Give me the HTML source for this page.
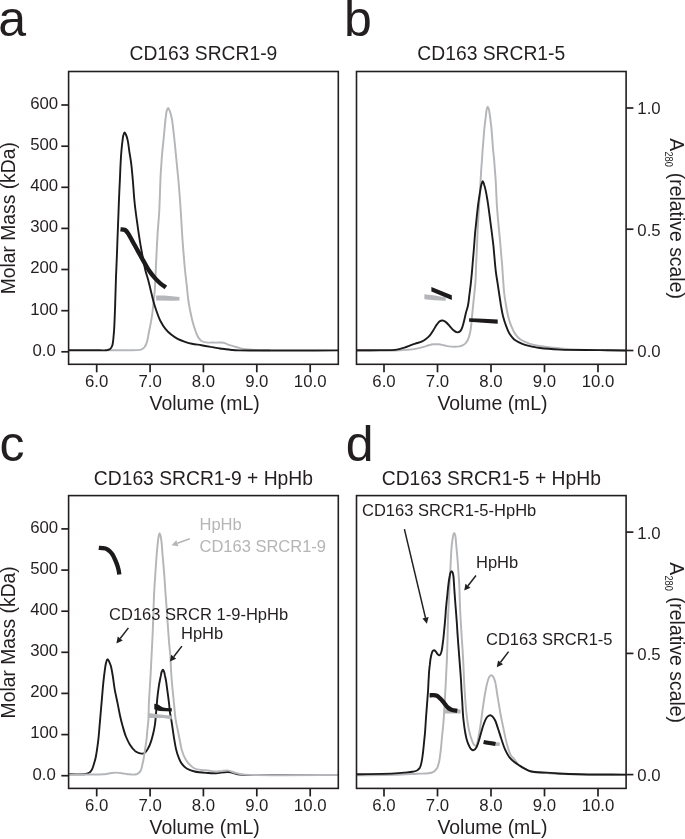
<!DOCTYPE html>
<html><head><meta charset="utf-8"><style>
html,body{margin:0;padding:0;background:#fff;width:685px;height:839px;overflow:hidden}
svg{display:block;will-change:transform}
</style></head><body>
<svg width="685" height="839" viewBox="0 0 685 839" font-family='"Liberation Sans", sans-serif'>
<rect width="685" height="839" fill="#fff"/>
<text x="-1.7" y="36.3" font-size="50" fill="#231f20">a</text>
<text x="344.1" y="36.4" font-size="50" fill="#231f20">b</text>
<text x="-0.6" y="460.8" font-size="50" fill="#231f20">c</text>
<text x="345.8" y="460.7" font-size="50" fill="#231f20">d</text>
<text x="203.4" y="59.8" font-size="19.3" fill="#231f20" text-anchor="middle">CD163 SRCR1-9</text>
<text x="491.3" y="59.8" font-size="19.3" fill="#231f20" text-anchor="middle">CD163 SRCR1-5</text>
<text x="203.4" y="484.8" font-size="19.3" fill="#231f20" text-anchor="middle">CD163 SRCR1-9 + HpHb</text>
<text x="491.3" y="484.8" font-size="19.3" fill="#231f20" text-anchor="middle">CD163 SRCR1-5 + HpHb</text>
<line x1="96.7" y1="364.3" x2="96.7" y2="372.3" stroke="#231f20" stroke-width="1.7"/>
<text x="96.7" y="387.3" font-size="16.8" fill="#231f20" text-anchor="middle">6.0</text>
<line x1="150.1" y1="364.3" x2="150.1" y2="372.3" stroke="#231f20" stroke-width="1.7"/>
<text x="150.1" y="387.3" font-size="16.8" fill="#231f20" text-anchor="middle">7.0</text>
<line x1="203.4" y1="364.3" x2="203.4" y2="372.3" stroke="#231f20" stroke-width="1.7"/>
<text x="203.4" y="387.3" font-size="16.8" fill="#231f20" text-anchor="middle">8.0</text>
<line x1="256.8" y1="364.3" x2="256.8" y2="372.3" stroke="#231f20" stroke-width="1.7"/>
<text x="256.8" y="387.3" font-size="16.8" fill="#231f20" text-anchor="middle">9.0</text>
<line x1="310.2" y1="364.3" x2="310.2" y2="372.3" stroke="#231f20" stroke-width="1.7"/>
<text x="310.2" y="387.3" font-size="16.8" fill="#231f20" text-anchor="middle">10.0</text>
<text x="204.6" y="409.7" font-size="19.45" fill="#231f20" text-anchor="middle">Volume (mL)</text>
<line x1="61.3" y1="351.8" x2="68.6" y2="351.8" stroke="#231f20" stroke-width="1.7"/>
<text x="44.2" y="355.6" font-size="16.8" fill="#231f20" text-anchor="middle">0.0</text>
<line x1="61.3" y1="310.7" x2="68.6" y2="310.7" stroke="#231f20" stroke-width="1.7"/>
<text x="44.2" y="314.5" font-size="16.8" fill="#231f20" text-anchor="middle">100</text>
<line x1="61.3" y1="269.5" x2="68.6" y2="269.5" stroke="#231f20" stroke-width="1.7"/>
<text x="44.2" y="273.3" font-size="16.8" fill="#231f20" text-anchor="middle">200</text>
<line x1="61.3" y1="228.4" x2="68.6" y2="228.4" stroke="#231f20" stroke-width="1.7"/>
<text x="44.2" y="232.2" font-size="16.8" fill="#231f20" text-anchor="middle">300</text>
<line x1="61.3" y1="187.3" x2="68.6" y2="187.3" stroke="#231f20" stroke-width="1.7"/>
<text x="44.2" y="191.1" font-size="16.8" fill="#231f20" text-anchor="middle">400</text>
<line x1="61.3" y1="146.2" x2="68.6" y2="146.2" stroke="#231f20" stroke-width="1.7"/>
<text x="44.2" y="150.0" font-size="16.8" fill="#231f20" text-anchor="middle">500</text>
<line x1="61.3" y1="105.0" x2="68.6" y2="105.0" stroke="#231f20" stroke-width="1.7"/>
<text x="44.2" y="108.8" font-size="16.8" fill="#231f20" text-anchor="middle">600</text>
<text transform="translate(15.0,294.3) rotate(-90)" font-size="19.3" fill="#231f20">Molar Mass (kDa)</text>
<line x1="384.0" y1="364.3" x2="384.0" y2="372.3" stroke="#231f20" stroke-width="1.7"/>
<text x="384.0" y="387.3" font-size="16.8" fill="#231f20" text-anchor="middle">6.0</text>
<line x1="437.5" y1="364.3" x2="437.5" y2="372.3" stroke="#231f20" stroke-width="1.7"/>
<text x="437.5" y="387.3" font-size="16.8" fill="#231f20" text-anchor="middle">7.0</text>
<line x1="491.0" y1="364.3" x2="491.0" y2="372.3" stroke="#231f20" stroke-width="1.7"/>
<text x="491.0" y="387.3" font-size="16.8" fill="#231f20" text-anchor="middle">8.0</text>
<line x1="544.5" y1="364.3" x2="544.5" y2="372.3" stroke="#231f20" stroke-width="1.7"/>
<text x="544.5" y="387.3" font-size="16.8" fill="#231f20" text-anchor="middle">9.0</text>
<line x1="598.0" y1="364.3" x2="598.0" y2="372.3" stroke="#231f20" stroke-width="1.7"/>
<text x="598.0" y="387.3" font-size="16.8" fill="#231f20" text-anchor="middle">10.0</text>
<text x="492.5" y="409.7" font-size="19.45" fill="#231f20" text-anchor="middle">Volume (mL)</text>
<line x1="626.1" y1="350.5" x2="633.4" y2="350.5" stroke="#231f20" stroke-width="1.7"/>
<text x="637.3" y="356.9" font-size="16.8" fill="#231f20">0.0</text>
<line x1="626.1" y1="229.2" x2="633.4" y2="229.2" stroke="#231f20" stroke-width="1.7"/>
<text x="637.3" y="235.7" font-size="16.8" fill="#231f20">0.5</text>
<line x1="626.1" y1="108.0" x2="633.4" y2="108.0" stroke="#231f20" stroke-width="1.7"/>
<text x="637.3" y="114.4" font-size="16.8" fill="#231f20">1.0</text>
<g transform="translate(670,138.2) rotate(90)" fill="#231f20"><text x="0" y="0" font-size="19.4">A</text><text x="13.2" y="4.6" font-size="10.4" textLength="15.4" lengthAdjust="spacingAndGlyphs">280</text><text x="34.6" y="0" font-size="19.4">(relative scale)</text></g>
<line x1="96.7" y1="788.4" x2="96.7" y2="796.4" stroke="#231f20" stroke-width="1.7"/>
<text x="96.7" y="811.4" font-size="16.8" fill="#231f20" text-anchor="middle">6.0</text>
<line x1="150.1" y1="788.4" x2="150.1" y2="796.4" stroke="#231f20" stroke-width="1.7"/>
<text x="150.1" y="811.4" font-size="16.8" fill="#231f20" text-anchor="middle">7.0</text>
<line x1="203.4" y1="788.4" x2="203.4" y2="796.4" stroke="#231f20" stroke-width="1.7"/>
<text x="203.4" y="811.4" font-size="16.8" fill="#231f20" text-anchor="middle">8.0</text>
<line x1="256.8" y1="788.4" x2="256.8" y2="796.4" stroke="#231f20" stroke-width="1.7"/>
<text x="256.8" y="811.4" font-size="16.8" fill="#231f20" text-anchor="middle">9.0</text>
<line x1="310.2" y1="788.4" x2="310.2" y2="796.4" stroke="#231f20" stroke-width="1.7"/>
<text x="310.2" y="811.4" font-size="16.8" fill="#231f20" text-anchor="middle">10.0</text>
<text x="204.6" y="833.8" font-size="19.45" fill="#231f20" text-anchor="middle">Volume (mL)</text>
<line x1="61.3" y1="775.7" x2="68.6" y2="775.7" stroke="#231f20" stroke-width="1.7"/>
<text x="44.2" y="779.5" font-size="16.8" fill="#231f20" text-anchor="middle">0.0</text>
<line x1="61.3" y1="734.6" x2="68.6" y2="734.6" stroke="#231f20" stroke-width="1.7"/>
<text x="44.2" y="738.4" font-size="16.8" fill="#231f20" text-anchor="middle">100</text>
<line x1="61.3" y1="693.4" x2="68.6" y2="693.4" stroke="#231f20" stroke-width="1.7"/>
<text x="44.2" y="697.2" font-size="16.8" fill="#231f20" text-anchor="middle">200</text>
<line x1="61.3" y1="652.3" x2="68.6" y2="652.3" stroke="#231f20" stroke-width="1.7"/>
<text x="44.2" y="656.1" font-size="16.8" fill="#231f20" text-anchor="middle">300</text>
<line x1="61.3" y1="611.2" x2="68.6" y2="611.2" stroke="#231f20" stroke-width="1.7"/>
<text x="44.2" y="615.0" font-size="16.8" fill="#231f20" text-anchor="middle">400</text>
<line x1="61.3" y1="570.1" x2="68.6" y2="570.1" stroke="#231f20" stroke-width="1.7"/>
<text x="44.2" y="573.9" font-size="16.8" fill="#231f20" text-anchor="middle">500</text>
<line x1="61.3" y1="528.9" x2="68.6" y2="528.9" stroke="#231f20" stroke-width="1.7"/>
<text x="44.2" y="532.7" font-size="16.8" fill="#231f20" text-anchor="middle">600</text>
<text transform="translate(15.0,718.4) rotate(-90)" font-size="19.3" fill="#231f20">Molar Mass (kDa)</text>
<line x1="384.0" y1="788.4" x2="384.0" y2="796.4" stroke="#231f20" stroke-width="1.7"/>
<text x="384.0" y="811.4" font-size="16.8" fill="#231f20" text-anchor="middle">6.0</text>
<line x1="437.5" y1="788.4" x2="437.5" y2="796.4" stroke="#231f20" stroke-width="1.7"/>
<text x="437.5" y="811.4" font-size="16.8" fill="#231f20" text-anchor="middle">7.0</text>
<line x1="491.0" y1="788.4" x2="491.0" y2="796.4" stroke="#231f20" stroke-width="1.7"/>
<text x="491.0" y="811.4" font-size="16.8" fill="#231f20" text-anchor="middle">8.0</text>
<line x1="544.5" y1="788.4" x2="544.5" y2="796.4" stroke="#231f20" stroke-width="1.7"/>
<text x="544.5" y="811.4" font-size="16.8" fill="#231f20" text-anchor="middle">9.0</text>
<line x1="598.0" y1="788.4" x2="598.0" y2="796.4" stroke="#231f20" stroke-width="1.7"/>
<text x="598.0" y="811.4" font-size="16.8" fill="#231f20" text-anchor="middle">10.0</text>
<text x="492.5" y="833.8" font-size="19.45" fill="#231f20" text-anchor="middle">Volume (mL)</text>
<line x1="626.1" y1="774.6" x2="633.4" y2="774.6" stroke="#231f20" stroke-width="1.7"/>
<text x="637.3" y="781.0" font-size="16.8" fill="#231f20">0.0</text>
<line x1="626.1" y1="653.4" x2="633.4" y2="653.4" stroke="#231f20" stroke-width="1.7"/>
<text x="637.3" y="659.8" font-size="16.8" fill="#231f20">0.5</text>
<line x1="626.1" y1="532.1" x2="633.4" y2="532.1" stroke="#231f20" stroke-width="1.7"/>
<text x="637.3" y="538.5" font-size="16.8" fill="#231f20">1.0</text>
<g transform="translate(670,562.3) rotate(90)" fill="#231f20"><text x="0" y="0" font-size="19.4">A</text><text x="13.2" y="4.6" font-size="10.4" textLength="15.4" lengthAdjust="spacingAndGlyphs">280</text><text x="34.6" y="0" font-size="19.4">(relative scale)</text></g>
<path d="M108.0,350.2 C110.8,350.2 119.7,350.2 125.0,350.2 C129.6,350.2 135.2,350.3 138.0,350.1 C139.4,350.0 140.1,349.9 141.0,349.6 C141.8,349.3 142.4,348.9 143.0,348.5 C143.6,348.1 144.1,347.6 144.6,347.0 C145.1,346.3 145.6,345.4 146.0,344.5 C146.5,343.4 146.8,342.4 147.2,340.9 C147.9,338.4 148.5,334.2 149.2,330.8 C149.9,327.4 150.6,324.1 151.2,320.7 C151.8,317.3 152.3,313.9 152.7,310.5 C153.1,307.1 153.4,303.8 153.7,300.4 C154.1,297.0 154.5,293.7 154.8,290.3 C155.1,286.9 155.1,283.5 155.3,280.1 C155.5,276.7 155.6,273.3 155.8,270.0 C155.9,266.8 156.0,264.5 156.2,260.5 C156.5,253.8 157.1,242.1 157.6,233.6 C158.1,226.1 158.8,218.9 159.2,212.2 C159.5,206.2 159.7,200.5 159.9,195.0 C160.1,189.8 160.2,185.0 160.4,180.0 C160.6,175.0 161.0,169.8 161.3,165.0 C161.6,160.7 161.8,157.1 162.2,152.6 C162.7,147.2 163.4,140.9 164.0,135.0 C164.6,129.2 165.1,122.0 165.7,117.5 C166.1,114.7 166.2,112.3 166.8,110.6 C167.2,109.5 167.6,108.0 168.1,108.0 C168.5,108.0 169.1,109.3 169.5,110.3 C170.2,112.0 171.0,114.5 171.6,117.5 C172.6,122.0 173.2,129.2 173.9,135.0 C174.6,140.9 175.1,146.7 175.7,152.6 C176.3,158.4 176.9,165.1 177.4,170.1 C177.8,173.9 178.0,176.1 178.4,180.0 C178.9,185.5 179.5,193.3 180.0,200.0 C180.5,206.7 180.9,213.3 181.3,220.0 C181.7,226.7 182.1,233.8 182.5,240.0 C182.9,245.4 183.3,250.0 183.7,255.0 C184.1,260.0 184.5,265.0 185.0,270.0 C185.5,275.0 186.1,280.0 186.7,285.0 C187.2,290.0 187.7,295.5 188.3,300.0 C188.8,303.7 189.3,306.6 190.0,310.0 C190.7,313.4 191.5,317.2 192.3,320.4 C193.0,323.1 193.7,325.5 194.5,328.0 C195.3,330.5 196.4,333.6 197.3,335.5 C197.9,336.8 198.5,337.7 199.2,338.6 C199.9,339.5 200.4,340.4 201.4,341.0 C202.6,341.7 204.2,342.1 206.0,342.4 C208.5,342.8 212.0,342.5 215.0,342.6 C217.9,342.7 221.2,342.3 223.6,342.8 C225.4,343.2 226.6,344.0 228.2,344.6 C230.0,345.2 232.1,345.8 234.0,346.4 C236.0,347.0 237.9,347.6 239.9,348.1 C241.8,348.6 243.5,349.0 245.7,349.3 C248.4,349.7 251.5,349.7 255.0,349.9 C259.4,350.1 267.5,350.2 270.0,350.3" fill="none" stroke="#b4b6b9" stroke-width="1.95" stroke-linejoin="round"/>
<path d="M68.6,350.3 C73.8,350.3 94.0,350.3 100.0,350.3 C102.4,350.3 103.6,350.4 105.0,350.3 C106.0,350.2 106.7,350.2 107.5,350.0 C108.2,349.8 108.9,349.6 109.5,349.3 C110.1,349.0 110.6,348.5 111.0,348.0 C111.5,347.4 111.9,346.7 112.2,345.8 C112.6,344.7 112.8,343.4 113.0,342.0 C113.3,340.2 113.4,338.0 113.6,336.0 C113.8,334.0 113.9,332.3 114.1,330.0 C114.3,327.1 114.4,323.9 114.6,320.0 C114.8,314.5 115.1,306.7 115.3,300.0 C115.5,293.3 115.7,285.5 115.9,280.0 C116.0,276.1 116.1,274.1 116.3,270.0 C116.6,263.4 117.0,252.6 117.3,244.4 C117.6,236.9 117.8,230.1 118.1,222.9 C118.4,215.8 118.7,207.5 118.9,201.5 C119.1,197.1 119.2,194.1 119.4,190.0 C119.6,185.3 119.9,180.0 120.1,175.0 C120.3,170.0 120.5,164.5 120.8,160.0 C121.0,156.3 121.2,153.3 121.5,150.0 C121.8,146.9 122.1,143.6 122.5,140.9 C122.8,138.7 122.9,136.5 123.4,135.0 C123.7,133.9 124.2,132.4 124.6,132.4 C125.0,132.4 125.5,133.6 125.9,134.5 C126.6,136.0 127.3,138.4 127.8,140.9 C128.5,144.2 128.9,148.7 129.5,152.6 C130.1,156.5 130.8,160.1 131.3,164.3 C131.9,169.1 132.3,174.4 132.8,180.0 C133.4,186.6 133.8,194.4 134.5,201.5 C135.2,208.7 136.2,215.8 137.2,222.9 C138.2,230.1 139.3,237.8 140.4,244.4 C141.4,250.2 142.5,255.8 143.4,260.5 C144.1,264.1 144.5,266.8 145.3,270.0 C146.1,273.3 147.3,276.7 148.2,280.1 C149.1,283.5 149.9,286.9 150.7,290.3 C151.5,293.7 152.3,297.0 153.2,300.4 C154.1,303.8 155.1,307.1 156.3,310.5 C157.5,313.9 158.7,317.6 160.3,320.7 C161.8,323.6 163.5,326.4 165.4,328.8 C167.2,331.1 169.4,333.1 171.5,334.8 C173.5,336.4 175.4,337.7 177.6,338.9 C179.9,340.1 182.5,341.0 185.0,341.8 C187.3,342.6 189.5,343.3 192.0,343.8 C194.9,344.4 198.3,344.7 201.4,345.2 C204.5,345.7 207.6,346.3 210.7,346.9 C213.8,347.4 217.2,348.1 220.0,348.5 C222.2,348.8 223.9,349.1 225.9,349.3 C227.9,349.6 229.9,349.8 232.0,350.0 C234.2,350.2 235.2,350.3 238.7,350.4 C252.4,350.8 321.7,350.4 338.3,350.4" fill="none" stroke="#1c1a1b" stroke-width="1.9" stroke-linejoin="round"/>
<path d="M356.6,350.7 C363.0,350.7 386.3,350.8 395.0,350.5 C399.5,350.4 401.8,350.2 405.2,349.9 C408.6,349.6 412.2,349.4 415.4,348.9 C418.3,348.4 421.2,347.6 423.6,346.9 C425.5,346.4 427.0,345.7 428.7,345.3 C430.4,344.9 432.1,344.5 433.8,344.3 C435.5,344.1 437.2,344.1 438.9,344.3 C440.6,344.5 442.3,345.0 444.0,345.3 C445.7,345.7 447.4,346.2 449.1,346.4 C450.8,346.6 452.5,346.7 454.2,346.7 C455.9,346.7 457.9,346.7 459.4,346.4 C460.6,346.2 461.5,345.9 462.5,345.4 C463.5,344.9 464.7,344.2 465.5,343.4 C466.3,342.6 466.9,341.6 467.5,340.5 C468.2,339.2 468.7,337.7 469.2,336.0 C469.9,333.7 470.5,330.9 470.9,328.0 C471.4,324.5 471.6,320.4 472.0,316.6 C472.4,312.8 472.7,309.1 473.1,305.3 C473.5,301.5 473.9,297.8 474.3,294.0 C474.7,290.2 475.1,286.8 475.4,282.6 C475.8,277.4 475.9,270.6 476.1,265.0 C476.3,259.8 476.6,255.4 476.8,250.0 C477.1,243.5 477.4,234.9 477.7,228.6 C478.0,223.6 478.2,219.5 478.5,215.0 C478.8,210.6 479.0,206.7 479.3,201.8 C479.7,195.6 480.3,186.6 480.6,180.8 C480.8,176.6 481.0,173.7 481.2,170.1 C481.4,166.5 481.8,163.0 482.0,159.4 C482.3,155.8 482.4,152.2 482.7,148.6 C483.0,145.0 483.3,141.5 483.6,137.9 C483.9,134.3 484.1,130.8 484.5,127.2 C484.9,123.6 485.4,119.7 485.8,116.5 C486.1,113.9 486.3,111.3 486.7,109.5 C487.0,108.3 487.3,106.6 487.7,106.6 C488.0,106.6 488.5,108.0 488.8,109.0 C489.3,110.8 489.6,113.8 490.0,116.5 C490.5,119.7 490.9,123.6 491.3,127.2 C491.7,130.8 491.9,134.3 492.2,137.9 C492.5,141.5 492.7,145.0 493.0,148.6 C493.3,152.2 493.8,155.8 494.1,159.4 C494.4,163.0 494.6,166.5 494.9,170.1 C495.2,173.7 495.4,176.4 495.7,180.8 C496.1,187.6 496.5,199.5 497.0,207.2 C497.4,213.2 497.9,217.9 498.4,223.3 C498.9,228.7 499.4,234.0 499.9,239.4 C500.4,244.8 500.9,250.7 501.3,255.5 C501.6,259.4 501.9,262.4 502.2,266.0 C502.5,269.9 502.7,273.7 503.0,278.0 C503.4,283.0 503.7,289.1 504.3,294.0 C504.8,298.1 505.4,301.5 506.0,305.3 C506.7,309.1 507.3,313.1 508.2,316.6 C509.0,319.8 509.9,322.8 511.1,325.7 C512.2,328.5 513.4,331.3 515.0,333.6 C516.5,335.8 518.3,337.9 520.1,339.3 C521.6,340.5 523.1,341.0 525.0,341.8 C527.5,342.9 530.2,344.1 534.0,345.0 C540.4,346.5 551.9,347.6 560.0,348.4 C567.1,349.1 572.0,349.3 580.0,349.6 C592.2,350.1 618.3,350.3 626.0,350.5" fill="none" stroke="#b4b6b9" stroke-width="1.95" stroke-linejoin="round"/>
<path d="M356.6,350.2 C360.5,350.2 373.1,350.2 380.0,350.1 C385.6,350.1 391.3,350.3 395.0,349.9 C397.2,349.7 398.4,349.3 400.1,348.9 C401.8,348.5 403.5,348.0 405.2,347.4 C406.9,346.8 408.6,345.9 410.3,345.3 C412.0,344.7 413.6,344.2 415.4,343.6 C417.5,342.9 420.3,342.2 422.1,341.3 C423.5,340.7 424.4,340.1 425.6,339.2 C427.0,338.2 428.4,337.1 429.7,335.6 C431.2,333.9 432.5,331.5 433.8,329.5 C434.9,327.7 435.8,325.9 436.9,324.4 C437.9,323.1 438.8,321.7 439.9,321.1 C440.7,320.6 441.6,320.4 442.5,320.5 C443.5,320.6 444.6,321.2 445.6,321.9 C446.8,322.7 447.9,324.1 449.1,325.4 C450.4,326.8 451.7,328.8 453.2,330.0 C454.5,331.1 456.0,332.3 457.3,332.4 C458.4,332.5 459.6,331.8 460.4,331.0 C461.5,329.9 462.1,327.8 462.7,326.0 C463.4,324.0 463.9,321.7 464.4,319.5 C465.0,317.2 465.4,314.8 466.0,312.5 C466.6,310.1 467.5,308.0 468.0,305.3 C468.7,302.0 469.0,297.8 469.5,294.0 C470.0,290.2 470.5,286.4 470.9,282.6 C471.3,278.8 471.6,275.2 472.0,271.3 C472.4,267.0 472.7,262.4 473.1,258.0 C473.5,253.6 473.9,248.9 474.2,244.7 C474.5,240.9 474.7,237.6 475.0,234.0 C475.3,230.4 475.7,226.9 476.1,223.3 C476.5,219.7 476.8,216.2 477.2,212.6 C477.6,209.0 478.0,205.4 478.5,201.8 C479.0,198.2 479.7,194.2 480.2,191.1 C480.6,188.6 480.9,186.3 481.4,184.5 C481.8,183.2 482.3,181.2 482.7,181.2 C483.2,181.2 483.7,183.2 484.1,184.5 C484.7,186.3 485.3,188.6 485.8,191.1 C486.5,194.2 487.1,198.2 487.7,201.8 C488.3,205.4 488.7,209.0 489.2,212.6 C489.7,216.2 490.1,219.7 490.6,223.3 C491.1,226.9 491.5,230.4 492.0,234.0 C492.4,237.6 492.9,241.1 493.3,244.7 C493.7,248.3 493.9,251.6 494.3,255.5 C494.7,260.3 495.2,266.5 495.8,271.3 C496.3,275.4 496.9,278.8 497.5,282.6 C498.1,286.4 498.6,290.2 499.2,294.0 C499.8,297.8 500.3,301.5 500.9,305.3 C501.6,309.1 502.2,313.1 503.1,316.6 C503.9,319.8 504.9,322.8 506.0,325.7 C507.0,328.5 508.0,331.3 509.4,333.6 C510.7,335.7 512.2,337.8 513.9,339.3 C515.6,340.8 517.7,341.7 519.6,342.7 C521.4,343.6 523.1,344.3 525.0,344.9 C527.2,345.6 529.6,346.1 532.0,346.6 C534.6,347.1 536.7,347.6 540.0,348.0 C545.2,348.7 552.2,349.2 560.0,349.6 C571.0,350.1 588.1,349.9 600.0,350.1 C609.6,350.2 621.7,350.4 626.0,350.5" fill="none" stroke="#1c1a1b" stroke-width="1.9" stroke-linejoin="round"/>
<path d="M68.6,774.3 C71.2,774.3 80.9,774.5 84.0,774.2 C85.4,774.1 86.1,773.9 87.0,773.6 C87.9,773.3 88.8,773.0 89.5,772.5 C90.3,771.9 90.9,771.2 91.5,770.3 C92.1,769.4 92.6,768.2 93.0,767.0 C93.5,765.7 93.8,764.4 94.2,763.0 C94.7,761.3 95.2,759.8 95.7,757.5 C96.5,753.6 97.4,747.3 98.1,741.7 C98.9,735.5 99.3,728.6 99.9,722.1 C100.5,715.5 101.0,709.0 101.6,702.4 C102.2,695.9 102.7,688.7 103.3,682.8 C103.8,678.0 104.4,673.3 104.9,669.7 C105.3,667.1 105.5,664.9 106.0,663.0 C106.4,661.5 106.9,659.3 107.5,659.2 C108.0,659.1 108.5,660.4 109.0,661.3 C109.6,662.5 110.3,663.9 110.8,665.7 C111.6,668.4 112.2,672.5 112.8,676.2 C113.5,680.3 113.9,684.9 114.7,689.3 C115.5,693.7 116.5,698.0 117.4,702.4 C118.3,706.8 119.1,711.4 120.0,715.5 C120.8,719.2 121.6,722.5 122.6,726.0 C123.6,729.5 124.6,733.3 125.9,736.5 C127.1,739.4 128.3,742.0 129.8,744.4 C131.3,746.8 133.3,749.4 135.0,750.9 C136.2,751.9 137.3,752.4 138.5,752.9 C139.5,753.3 140.7,753.6 141.6,753.6 C142.4,753.6 143.1,753.6 143.8,753.3 C144.6,753.0 145.3,752.3 146.0,751.6 C146.8,750.8 147.4,749.6 148.0,748.5 C148.7,747.3 149.3,746.3 149.9,744.7 C150.9,742.2 152.1,738.1 152.9,734.8 C153.7,731.5 154.4,728.1 154.9,724.8 C155.4,721.5 155.6,718.2 155.9,714.9 C156.2,711.6 156.4,708.2 156.7,705.0 C157.0,702.1 157.2,699.5 157.5,696.7 C157.8,693.8 158.2,690.5 158.6,687.8 C158.9,685.6 159.2,683.8 159.6,681.8 C160.0,679.8 160.4,677.7 160.8,675.9 C161.1,674.3 161.3,672.6 161.8,671.5 C162.1,670.8 162.5,669.8 162.9,669.8 C163.3,669.8 163.7,670.8 164.0,671.5 C164.5,672.6 164.7,674.3 165.0,675.9 C165.4,677.7 165.9,679.8 166.2,681.8 C166.5,683.8 166.7,685.6 167.0,687.8 C167.4,690.5 167.8,693.9 168.2,696.7 C168.5,699.2 168.8,701.4 169.1,703.9 C169.4,706.5 169.5,709.3 169.9,712.0 C170.3,714.7 170.8,717.1 171.3,719.9 C171.8,723.0 172.3,726.5 172.8,729.8 C173.3,733.1 173.7,736.4 174.3,739.7 C174.9,743.0 175.4,746.6 176.2,749.7 C176.9,752.5 177.7,755.2 178.7,757.6 C179.6,759.8 180.4,761.8 181.7,763.6 C183.0,765.4 184.7,767.2 186.7,768.5 C188.9,769.9 191.6,770.8 194.6,771.5 C198.4,772.4 204.1,772.7 208.0,773.0 C211.0,773.2 213.1,773.3 216.0,773.2 C219.6,773.1 224.0,771.8 228.0,772.0 C232.0,772.2 235.7,774.1 240.0,774.6 C244.9,775.2 248.6,774.9 256.0,775.0 C272.8,775.2 324.6,775.0 338.3,775.0" fill="none" stroke="#1c1a1b" stroke-width="1.9" stroke-linejoin="round"/>
<path d="M68.6,774.6 C73.0,774.6 88.8,774.6 95.0,774.5 C98.4,774.5 100.4,774.5 103.0,774.3 C105.4,774.1 107.8,773.6 110.0,773.3 C112.1,773.0 114.0,772.6 116.0,772.6 C118.0,772.6 120.0,772.9 122.0,773.2 C124.0,773.5 126.0,774.0 128.0,774.2 C130.0,774.4 132.3,774.7 134.0,774.6 C135.2,774.5 136.1,774.3 137.0,774.0 C137.8,773.7 138.4,773.4 139.0,772.8 C139.7,772.1 140.5,771.1 141.0,770.0 C141.6,768.6 141.9,766.7 142.3,765.0 C142.7,763.2 143.1,761.7 143.5,759.6 C144.0,756.8 144.5,753.0 145.0,749.7 C145.5,746.4 146.1,743.0 146.5,739.7 C146.9,736.4 147.1,733.1 147.4,729.8 C147.7,726.5 148.2,723.7 148.4,719.9 C148.7,715.0 148.7,708.2 148.9,702.7 C149.1,697.6 149.5,692.8 149.8,687.8 C150.1,682.8 150.4,678.1 150.7,672.9 C151.0,667.2 151.3,661.5 151.6,655.0 C152.0,647.4 152.5,637.9 152.8,630.0 C153.1,623.0 153.3,616.5 153.5,610.0 C153.7,603.8 153.9,597.2 154.2,591.7 C154.4,587.1 154.7,583.4 155.0,579.2 C155.3,575.0 155.5,570.9 155.8,566.7 C156.1,562.5 156.4,558.4 156.7,554.2 C157.1,550.0 157.5,545.1 157.9,541.7 C158.2,539.4 158.3,537.6 158.7,536.0 C159.0,534.9 159.3,533.2 159.6,533.2 C159.9,533.2 160.3,534.9 160.6,536.0 C161.0,537.6 161.2,539.4 161.5,541.7 C161.9,545.1 162.2,550.0 162.5,554.2 C162.9,558.4 163.2,562.5 163.6,566.7 C163.9,570.9 164.3,575.0 164.6,579.2 C164.9,583.4 165.1,587.5 165.4,591.7 C165.7,596.1 166.0,600.1 166.4,605.0 C166.8,611.0 167.3,618.3 167.8,625.0 C168.3,631.7 168.8,639.5 169.3,645.0 C169.6,648.9 170.0,651.2 170.3,655.0 C170.7,660.1 170.8,667.2 171.2,672.9 C171.5,678.1 172.0,682.8 172.4,687.8 C172.9,692.8 173.4,697.6 173.9,702.7 C174.5,708.2 174.9,715.0 175.7,719.9 C176.3,723.7 177.0,726.5 177.7,729.8 C178.4,733.1 179.0,736.4 179.7,739.7 C180.4,743.0 180.8,746.6 181.7,749.7 C182.5,752.5 183.5,755.2 184.7,757.6 C185.8,759.8 187.1,761.8 188.7,763.6 C190.4,765.5 192.4,767.4 194.6,768.5 C196.7,769.5 199.3,769.7 201.6,770.0 C203.8,770.3 205.8,770.3 208.0,770.5 C210.5,770.8 213.5,771.4 216.0,771.5 C218.1,771.5 220.0,771.1 222.0,771.0 C224.1,770.8 226.4,770.3 228.5,770.6 C230.7,770.9 232.7,772.2 235.0,772.8 C237.4,773.5 239.7,774.0 242.6,774.4 C246.4,774.9 249.6,774.9 256.0,775.0 C271.8,775.4 324.6,775.0 338.3,775.0" fill="none" stroke="#b4b6b9" stroke-width="1.95" stroke-linejoin="round"/>
<path d="M356.6,775.3 C363.0,775.2 384.0,775.1 395.0,774.8 C403.3,774.5 410.8,774.0 416.9,773.7 C421.3,773.5 425.3,773.8 428.3,773.3 C430.4,773.0 432.0,772.7 433.5,771.8 C434.9,771.0 436.1,769.8 437.0,768.3 C438.1,766.5 438.6,763.8 439.2,761.3 C439.8,758.6 440.1,755.4 440.5,752.5 C440.9,749.6 441.1,746.6 441.4,743.8 C441.7,741.1 441.8,738.7 442.1,736.0 C442.4,733.0 442.8,730.0 443.1,726.5 C443.5,722.2 443.9,717.1 444.2,711.9 C444.6,706.1 444.9,699.8 445.2,693.4 C445.6,686.4 446.0,678.1 446.3,671.5 C446.6,666.1 446.8,661.9 447.0,656.9 C447.2,651.5 447.3,646.1 447.5,640.0 C447.7,632.8 447.8,623.4 448.1,616.5 C448.3,611.1 448.6,606.9 448.8,601.9 C449.1,596.5 449.3,590.6 449.6,585.0 C449.9,579.5 450.1,574.1 450.4,568.8 C450.6,563.8 450.9,558.2 451.1,554.2 C451.3,551.3 451.4,549.3 451.6,546.9 C451.8,544.5 452.2,541.8 452.5,539.6 C452.8,537.8 452.9,536.0 453.3,534.8 C453.5,534.0 453.9,533.0 454.2,533.0 C454.5,533.0 454.9,534.0 455.1,534.8 C455.5,536.0 455.6,537.8 455.8,539.6 C456.0,541.8 456.2,544.5 456.4,546.9 C456.6,549.3 456.9,551.8 457.1,554.2 C457.3,556.6 457.5,559.1 457.7,561.5 C457.9,563.9 458.0,566.4 458.2,568.8 C458.4,571.2 458.5,573.7 458.7,576.1 C458.9,578.5 459.1,580.7 459.2,583.4 C459.4,586.7 459.5,590.6 459.6,594.6 C459.8,599.1 459.9,604.3 460.1,609.2 C460.3,614.1 460.6,618.9 460.9,623.8 C461.2,628.7 461.5,633.8 461.8,638.4 C462.1,642.5 462.3,645.9 462.6,650.0 C462.9,654.7 463.1,659.5 463.4,665.0 C463.7,671.9 464.0,680.3 464.5,688.0 C465.0,695.9 465.5,704.5 466.3,712.0 C467.0,718.6 467.9,725.3 469.1,730.6 C470.0,734.6 471.1,738.3 472.2,741.0 C472.9,742.8 473.6,744.7 474.5,745.3 C475.1,745.7 475.8,745.9 476.3,745.6 C477.4,744.9 477.7,740.9 478.3,738.0 C479.1,734.2 479.9,729.4 480.6,724.6 C481.4,719.1 482.2,712.5 483.0,706.7 C483.8,701.3 484.6,695.6 485.5,691.0 C486.2,687.4 486.8,684.1 487.6,681.5 C488.2,679.5 488.7,677.6 489.5,676.5 C490.0,675.8 490.8,675.2 491.4,675.2 C492.0,675.2 492.7,676.0 493.3,676.8 C494.2,678.0 494.7,680.2 495.3,682.5 C496.1,685.8 496.6,690.3 497.3,694.8 C498.2,700.2 499.2,706.7 500.3,712.7 C501.4,718.7 502.7,724.9 503.9,730.6 C505.0,735.9 506.1,741.5 507.4,746.0 C508.5,749.6 509.5,753.1 511.0,755.6 C512.2,757.5 513.7,758.4 515.0,760.0 C516.3,761.6 517.2,763.7 518.7,765.1 C520.1,766.4 521.7,767.1 523.4,768.0 C525.2,769.0 527.2,770.3 529.2,771.0 C531.1,771.7 532.7,772.0 535.0,772.3 C538.2,772.8 542.8,772.8 546.7,773.0 C550.6,773.3 553.9,773.6 558.4,773.8 C564.5,774.1 571.5,774.4 580.0,774.6 C592.5,774.9 618.3,774.9 626.0,775.0" fill="none" stroke="#b4b6b9" stroke-width="1.95" stroke-linejoin="round"/>
<path d="M356.6,774.3 C363.0,774.1 386.7,773.9 395.0,773.4 C399.0,773.2 400.9,772.9 403.8,772.6 C406.7,772.3 410.1,772.3 412.5,771.8 C414.2,771.5 415.6,771.2 416.9,770.5 C418.1,769.8 419.2,768.7 420.0,767.4 C420.9,765.8 421.2,763.5 421.7,761.3 C422.3,758.7 422.6,755.4 423.0,752.5 C423.4,749.6 423.6,746.8 423.9,743.8 C424.2,740.6 424.6,737.5 424.9,733.8 C425.3,729.4 425.6,724.1 425.9,719.2 C426.3,714.3 426.6,709.5 427.0,704.6 C427.4,699.7 427.8,694.4 428.1,690.0 C428.3,686.4 428.4,683.2 428.6,680.0 C428.8,677.1 428.9,674.2 429.1,671.5 C429.3,669.0 429.6,666.5 429.9,664.2 C430.1,662.2 430.3,660.3 430.6,658.4 C430.9,656.7 431.3,654.8 431.7,653.4 C432.0,652.4 432.3,651.4 432.8,650.9 C433.2,650.5 433.7,650.2 434.2,650.2 C434.7,650.3 435.2,650.9 435.7,651.4 C436.3,652.1 436.8,653.3 437.5,654.0 C438.1,654.6 438.8,655.5 439.3,655.4 C439.9,655.3 440.4,654.4 440.8,653.6 C441.3,652.6 441.6,651.1 441.9,649.6 C442.3,647.7 442.5,645.1 442.8,643.0 C443.1,641.1 443.3,639.4 443.5,637.5 C443.7,635.4 443.9,633.3 444.1,631.1 C444.3,628.7 444.6,626.2 444.8,623.8 C445.0,621.4 445.2,618.9 445.4,616.5 C445.6,614.1 445.7,611.6 445.9,609.2 C446.1,606.8 446.4,604.3 446.6,601.9 C446.9,599.5 447.1,597.0 447.4,594.6 C447.6,592.2 447.8,589.7 448.1,587.3 C448.4,584.9 448.7,582.1 449.0,580.0 C449.3,578.3 449.5,576.9 449.8,575.5 C450.0,574.4 450.2,573.2 450.6,572.4 C450.9,571.9 451.3,571.2 451.6,571.2 C451.9,571.2 452.3,571.8 452.6,572.4 C453.0,573.2 453.2,574.6 453.4,576.0 C453.7,578.1 453.8,581.1 454.0,584.0 C454.2,587.3 454.4,590.8 454.7,594.6 C455.0,599.1 455.4,604.3 455.8,609.2 C456.2,614.1 456.6,619.3 456.9,623.8 C457.2,627.8 457.3,631.0 457.6,635.0 C457.9,639.5 458.3,644.7 458.7,649.6 C459.1,654.5 459.4,659.3 459.8,664.2 C460.2,669.1 460.6,674.3 460.9,678.8 C461.2,682.8 461.3,686.3 461.5,690.0 C461.7,693.6 462.0,697.2 462.2,700.8 C462.4,704.5 462.6,708.4 462.8,711.9 C463.0,715.1 463.2,717.8 463.6,721.0 C464.0,724.7 464.7,729.5 465.3,733.0 C465.8,735.8 466.3,738.2 467.0,740.5 C467.6,742.6 468.5,744.8 469.3,746.3 C469.9,747.4 470.3,748.3 471.0,749.0 C471.6,749.6 472.3,750.1 472.9,750.2 C473.5,750.3 474.2,749.8 474.8,749.4 C475.5,748.9 475.9,748.2 476.5,747.2 C477.5,745.4 478.5,741.9 479.4,738.9 C480.4,735.6 481.4,731.4 482.4,728.2 C483.3,725.5 484.0,722.9 485.0,720.8 C485.8,719.2 486.5,717.5 487.5,716.6 C488.3,715.9 489.3,715.3 490.2,715.3 C491.1,715.3 492.0,716.1 492.8,716.8 C493.7,717.7 494.5,719.0 495.2,720.5 C496.2,722.6 497.0,725.4 497.9,728.2 C499.0,731.4 500.0,735.0 501.2,738.5 C502.4,742.1 503.5,746.0 505.0,749.3 C506.3,752.2 507.8,755.1 509.5,757.3 C510.9,759.1 512.4,760.5 514.0,761.8 C515.5,763.0 517.1,764.0 518.7,765.0 C520.3,766.0 521.7,767.0 523.4,767.9 C525.2,768.9 527.2,770.1 529.2,770.8 C531.1,771.5 532.7,771.7 535.0,772.0 C538.2,772.4 542.8,772.4 546.7,772.6 C550.6,772.9 553.9,773.2 558.4,773.5 C564.5,773.8 571.5,774.1 580.0,774.3 C592.5,774.6 618.3,774.5 626.0,774.6" fill="none" stroke="#1c1a1b" stroke-width="1.9" stroke-linejoin="round"/>
<path d="M120.5,229.3 C121.2,229.4 123.7,229.3 125.0,230.0 C126.2,230.7 127.0,231.9 128.0,233.3 C129.4,235.3 130.9,238.5 132.4,241.1 C133.9,243.7 135.3,246.4 136.8,249.0 C138.2,251.6 139.7,254.2 141.1,256.8 C142.6,259.4 144.0,262.1 145.5,264.6 C146.9,267.0 148.2,269.4 149.8,271.6 C151.4,273.9 153.2,276.1 155.0,278.1 C156.7,280.0 158.5,281.8 160.3,283.4 C162.1,284.9 164.9,286.7 165.8,287.4" fill="none" stroke="#1c1a1b" stroke-width="4.4" stroke-linecap="butt" stroke-linejoin="round"/>
<path d="M98.8,547.8 C99.5,547.9 101.6,548.0 103.0,548.2 C104.4,548.4 105.8,548.6 107.0,549.2 C108.1,549.7 109.1,550.6 110.0,551.5 C110.9,552.4 111.7,553.3 112.5,554.5 C113.4,555.9 114.2,557.8 115.0,559.5 C115.8,561.3 116.6,563.2 117.2,565.0 C117.8,566.7 118.2,568.4 118.6,570.0 C118.9,571.5 119.2,573.7 119.3,574.5" fill="none" stroke="#1c1a1b" stroke-width="4.3" stroke-linecap="butt" stroke-linejoin="round"/>
<path d="M443.5,711.5 C444.9,711.5 449.2,711.5 452.0,711.5 C454.9,711.5 459.2,711.4 460.6,711.4" fill="none" stroke="#b4b6b9" stroke-width="4.0" stroke-linecap="butt" stroke-linejoin="round"/>
<path d="M429.6,695.4 C430.2,695.4 432.0,695.0 433.2,695.1 C434.4,695.2 435.7,695.3 436.9,695.8 C438.2,696.4 439.3,697.7 440.5,698.8 C441.8,700.1 443.0,701.7 444.2,703.1 C445.4,704.6 446.5,706.4 447.8,707.5 C448.9,708.5 450.1,709.2 451.5,709.7 C453.2,710.3 456.3,710.6 457.3,710.8" fill="none" stroke="#1c1a1b" stroke-width="4.4" stroke-linecap="butt" stroke-linejoin="round"/>
<path d="M487.0,743.0 C488.0,743.1 490.9,743.5 493.0,743.7 C495.2,743.9 498.6,744.2 499.7,744.3" fill="none" stroke="#b4b6b9" stroke-width="3.6" stroke-linecap="butt" stroke-linejoin="round"/>
<path d="M483.6,742.0 C484.6,742.2 487.5,742.7 489.5,743.0 C491.5,743.3 494.5,743.8 495.5,744.0" fill="none" stroke="#1c1a1b" stroke-width="4.0" stroke-linecap="butt" stroke-linejoin="round"/>
<path d="M156.1,295.5 L164.6,295.5 L179.5,297.0 L179.5,300.6 L172.2,300.8 L156.1,300.5 Z" fill="#b4b6b9"/>
<path d="M424.4,294.2 L435.0,295.6 L445.7,297.5 L445.7,300.7 L435.0,300.2 L424.4,299.3 Z" fill="#b4b6b9"/>
<path d="M431.4,286.9 L451.8,295.3 L451.8,299.9 L431.4,291.5 Z" fill="#1c1a1b"/>
<path d="M469.1,318.2 L483.0,318.7 L497.7,319.6 L497.7,323.7 L483.0,322.8 L469.1,321.7 Z" fill="#1c1a1b"/>
<path d="M147.9,713.1 L160.0,714.4 L171.8,715.7 L171.8,719.5 L163.4,718.1 L147.9,718.1 Z" fill="#b4b6b9"/>
<path d="M154.3,703.8 L156.0,703.9 L157.5,704.3 L159.0,705.0 L160.4,705.9 L162.0,706.9 L163.4,707.6 L166.0,708.1 L171.8,708.3 L171.8,711.4 L166.0,711.3 L160.0,711.0 L157.5,710.6 L155.5,709.7 L154.3,709.2 Z" fill="#1c1a1b"/>
<rect x="68.6" y="71.5" width="269.7" height="292.8" fill="none" stroke="#231f20" stroke-width="1.6"/>
<rect x="356.5" y="71.5" width="269.6" height="292.8" fill="none" stroke="#231f20" stroke-width="1.6"/>
<rect x="68.6" y="495.6" width="269.7" height="292.8" fill="none" stroke="#231f20" stroke-width="1.6"/>
<rect x="356.5" y="495.6" width="269.6" height="292.8" fill="none" stroke="#231f20" stroke-width="1.6"/>
<text x="199.5" y="530.4" font-size="16.5" fill="#b5b5b5">HpHb</text>
<text x="199.5" y="551.9" font-size="16.5" fill="#b5b5b5">CD163 SRCR1-9</text>
<line x1="189.8" y1="538.7" x2="177.4" y2="543.2" stroke="#b5b5b5" stroke-width="1.5"/><path d="M171.6,545.3 L176.3,540.2 L178.5,546.2 Z" fill="#b5b5b5"/>
<text x="109" y="620" font-size="16.55" fill="#231f20">CD163 SRCR 1-9-HpHb</text>
<line x1="128.4" y1="627.9" x2="120.2" y2="638.5" stroke="#231f20" stroke-width="1.5"/><path d="M116.4,643.4 L117.7,636.5 L122.7,640.5 Z" fill="#231f20"/>
<text x="181" y="639" font-size="16.5" fill="#231f20">HpHb</text>
<line x1="181.9" y1="646.1" x2="173.7" y2="656.7" stroke="#231f20" stroke-width="1.5"/><path d="M169.9,661.6 L171.2,654.7 L176.2,658.7 Z" fill="#231f20"/>
<text x="362" y="516" font-size="16.5" fill="#231f20">CD163 SRCR1-5-HpHb</text>
<line x1="404.4" y1="529.2" x2="425.5" y2="617.8" stroke="#231f20" stroke-width="1.5"/><path d="M426.9,623.8 L422.4,618.5 L428.6,617.0 Z" fill="#231f20"/>
<text x="476" y="568" font-size="16.5" fill="#231f20">HpHb</text>
<line x1="476" y1="575.5" x2="468.0" y2="585.7" stroke="#231f20" stroke-width="1.5"/><path d="M464.2,590.6 L465.5,583.7 L470.5,587.7 Z" fill="#231f20"/>
<text x="486" y="645.4" font-size="16.5" fill="#231f20">CD163 SRCR1-5</text>
<line x1="508.6" y1="651.6" x2="500.5" y2="662.3" stroke="#231f20" stroke-width="1.5"/><path d="M496.8,667.3 L498.0,660.4 L503.1,664.3 Z" fill="#231f20"/>
</svg>
</body></html>
